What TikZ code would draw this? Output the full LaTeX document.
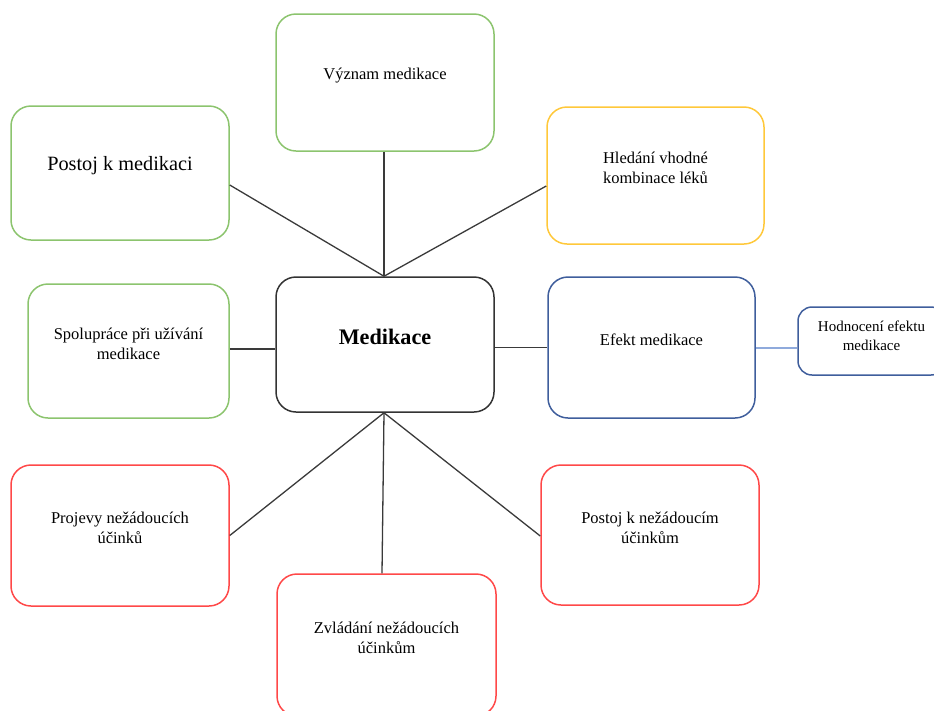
\documentclass[tikz,border=0pt]{standalone}
\usepackage{fontspec}
\setmainfont{Liberation Serif}
\definecolor{cgreen}{HTML}{8CC46E}
\definecolor{cyellow}{HTML}{FFC83A}
\definecolor{cred}{HTML}{FF4848}
\definecolor{cblue}{HTML}{3F5E9C}
\definecolor{clight}{HTML}{8FAADC}
\definecolor{cline}{HTML}{3A3A3A}
\begin{document}
\begin{tikzpicture}[x=1pt,y=-1pt,
  box/.style={draw, line width=1.5pt, rounded corners=20pt, inner sep=0pt},
  txt/.style={align=center, inner sep=0pt, font=\fontsize{16.5}{20}\selectfont},
  conn/.style={draw=cline, line width=1.3pt}]
\useasboundingbox (0,0) rectangle (934,710);
% boxes
\node[box, draw=cgreen, minimum width=218pt, minimum height=137pt] (vyz) at (385,82.5) {};
\node[txt] (vyzt) at (385,76) {Význam medikace};
\node[box, draw=cgreen, minimum width=218pt, minimum height=134pt] (pk) at (120,173) {};
\node[txt, font=\fontsize{20.3}{24}\selectfont] (pkt) at (120,166) {Postoj k medikaci};
\node[box, draw=cyellow, minimum width=217pt, minimum height=137pt] (hl) at (655.5,175.5) {};
\node[txt] (hlt) at (655.5,168) {Hledání vhodné\\kombinace léků};
\node[box, draw=cgreen, minimum width=201pt, minimum height=134pt] (sp) at (128.5,351) {};
\node[txt] (spt) at (128.5,344) {Spolupráce při užívání\\medikace};
\node[box, draw=black!80, minimum width=218pt, minimum height=135pt] (med) at (385,344.5) {};
\node[txt, font=\bfseries\fontsize{22.2}{26}\selectfont] (medt) at (385,337) {Medikace};
\node[box, draw=cblue, minimum width=207pt, minimum height=141pt] (ef) at (651.5,347.5) {};
\node[txt] (eft) at (651.5,340) {Efekt medikace};
\node[box, draw=cblue, rounded corners=14pt, minimum width=147pt, minimum height=68pt] (ho) at (871.5,341) {};
\node[txt, font=\fontsize{15}{19}\selectfont] (hot) at (871.5,335.5) {Hodnocení efektu\\medikace};
\node[box, draw=cred, minimum width=218pt, minimum height=141pt] (pj) at (120,535.5) {};
\node[txt] (pjt) at (120,528) {Projevy nežádoucích\\účinků};
\node[box, draw=cred, minimum width=218pt, minimum height=140pt] (pn) at (650,535) {};
\node[txt] (pnt) at (650,528) {Postoj k nežádoucím\\účinkům};
\node[box, draw=cred, minimum width=219pt, minimum height=142pt] (zv) at (386.5,645) {};
\node[txt] (zvt) at (386.5,637.5) {Zvládání nežádoucích\\účinkům};
% connectors
\draw[conn] ([xshift=-1pt]vyz.south) -- ([xshift=-1pt]med.north);
\draw[conn] ([yshift=-12pt]pk.east) -- ([xshift=-1pt]med.north);
\draw[conn] ([yshift=-10.5pt]hl.west) -- ([xshift=-1pt]med.north);
\draw[conn] ([yshift=2pt]sp.east) -- ([yshift=2pt]sp.east -| med.west);
\draw[conn] (med.east |- ef.west) -- (ef.west);
\draw[draw=clight, line width=2pt] (ef.east) -- (ef.east -| ho.west);
\draw[conn] (pj.east) -- ([xshift=-1pt]med.south);
\draw[conn] ([yshift=-1pt]pn.west) -- ([xshift=-1pt]med.south);
\draw[conn] ([xshift=-4.5pt]zv.north) -- ([xshift=-1pt]med.south);
\end{tikzpicture}
\end{document}
